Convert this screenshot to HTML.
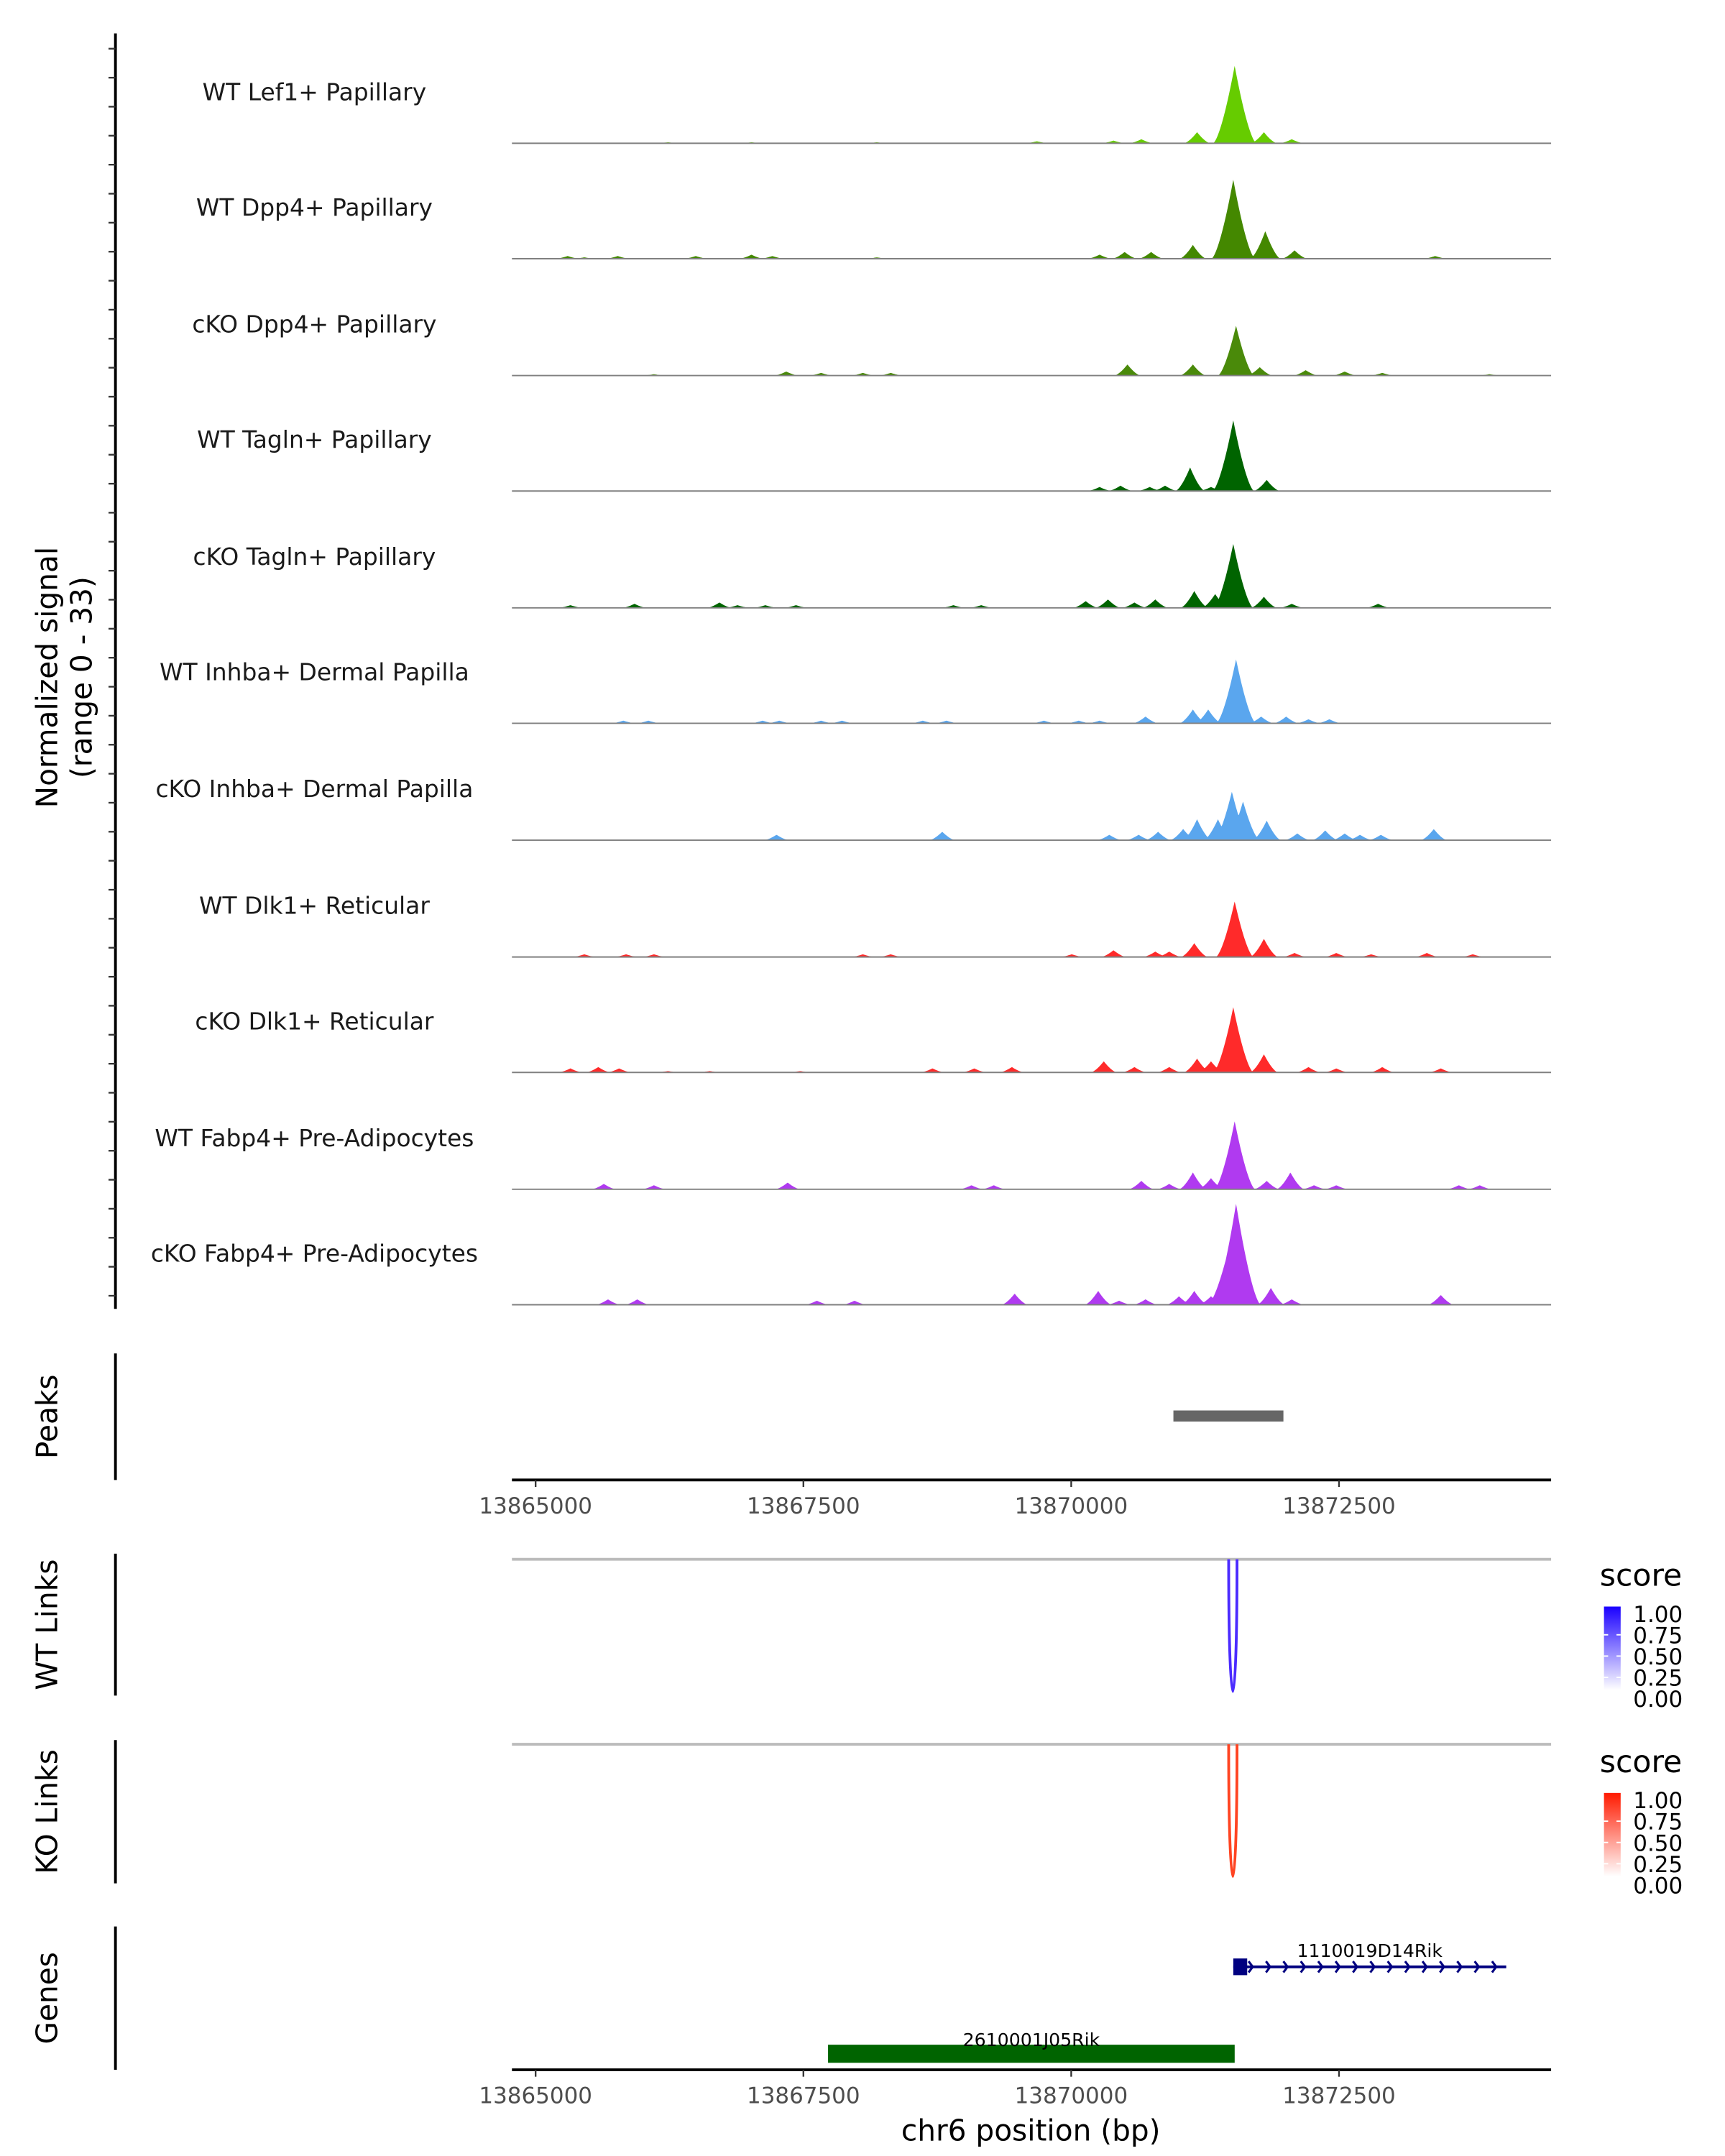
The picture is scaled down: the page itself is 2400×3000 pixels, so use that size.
<!DOCTYPE html>
<html><head><meta charset="utf-8"><style>html,body{margin:0;padding:0;background:#fff}svg{display:block}text{font-family:"DejaVu Sans","Liberation Sans",sans-serif}</style></head>
<body>
<svg id="chart" width="2400" height="3000" viewBox="0 0 1240 1550" xmlns="http://www.w3.org/2000/svg">
<g id="tracks"></g>
<g id="axes"></g>
</svg>
<script>
// ---- data ----
const regionStart = 13865000;
const regionEnd = 13874480;
const regionLeft = 13864779;
const tickBp = [13865000, 13867500, 13870000, 13872500];
const tickLabels = ["13865000", "13867500", "13870000", "13872500"];
const trackNames = ["WT Lef1+ Papillary","WT Dpp4+ Papillary","cKO Dpp4+ Papillary","WT Tagln+ Papillary","cKO Tagln+ Papillary","WT Inhba+ Dermal Papilla","cKO Inhba+ Dermal Papilla","WT Dlk1+ Reticular","cKO Dlk1+ Reticular","WT Fabp4+ Pre-Adipocytes","cKO Fabp4+ Pre-Adipocytes"];
const trackColors = ["#66cc00","#448800","#4a8a0a","#006400","#006400","#5aa6ee","#5aa6ee","#ff2a2a","#ff2a2a","#b03af0","#b03af0"];
const signalMax = 33;
// peak positions (bp offset from 13865000) and signal values per track
const pos0 = [6526,6175,6799,7059,5655,5395,4680,1235,2015,3185];
const val0 = [23,3.3,3.3,1.2,1.2,0.8,0.6,0.3,0.3,0.3];
const pos1 = [6513,6812,6136,7085,5499,5746,5265,2015,767,299,8398,1495,2210,3185,455];
const val1 = [23.5,8.2,4.1,2.5,2,2,1.2,1.2,0.8,0.8,0.8,0.8,0.8,0.4,0.4];
const pos2 = [6539,6136,5525,6760,7189,7553,2340,2665,3055,3315,7904,8905,1105];
const val2 = [14.8,3.3,3.3,2.5,1.6,1.2,1.2,0.8,0.8,0.8,0.8,0.4,0.4];
const pos3 = [6513,6110,6825,5876,5265,5460,5733,6305];
const val3 = [21,7,3.3,1.6,1.2,1.6,1.2,1.2];
const pos4 = [6513,6149,6344,6799,5785,5343,5135,5590,7059,7865,1716,923,325,2431,2145,3900,4160,1885];
const val4 = [19,5,4.1,3.3,2.5,2.5,2,1.6,1.2,1.2,1.6,1.2,0.8,0.8,0.8,0.8,0.8,0.8];
const pos5 = [6539,6136,6279,6773,7007,5694,7215,7410,819,1053,2119,2275,2665,2860,3614,3835,4745,5070,5265];
const val5 = [19,4.1,4.1,2,2,2,1.2,1.2,0.8,0.8,0.8,0.8,0.8,0.8,0.8,0.8,0.8,0.8,0.8];
const pos6 = [6500,6604,6175,6370,6825,6045,5811,5356,5629,7111,7371,7553,7696,7891,8385,2249,3796];
const val6 = [14.4,11.5,6.2,6.2,5.8,3.3,2.5,1.6,1.6,2,2.9,2,1.6,1.6,3.3,1.6,2.5];
const pos7 = [6526,6149,6799,5395,5785,5915,7085,7475,455,845,1105,3055,3315,5005,7800,8320,8749];
const val7 = [16.5,4.1,5.4,2,1.6,1.6,1.2,1.2,0.8,0.8,0.8,0.8,0.8,0.8,0.8,1.2,0.8];
const pos8 = [6513,6175,6799,5304,6305,585,325,780,3705,4095,4446,5590,5915,7215,7475,7904,8450,1235,1625,2470];
const val8 = [19.4,4.1,5.4,3.3,3.3,1.6,1.2,1.2,1.2,1.2,1.6,1.6,1.6,1.6,1.2,1.6,1.2,0.4,0.4,0.4];
const pos9 = [6526,6136,6305,7046,6825,5655,5915,637,1105,2353,4069,4277,7475,8619,8814,7267];
const val9 = [20.2,5,3.3,5,2.5,2.5,1.6,1.6,1.2,2,1.2,1.2,1.2,1.2,1.2,1.2];
const pos10 = [6539,6435,6149,6864,5252,4472,6006,5694,6305,7059,8450,676,949,2626,2977,5447];
const val10 = [30,12.4,4.1,5,4.1,3.3,2.5,1.6,2.5,1.6,2.9,1.6,1.6,1.2,1.2,1.2];
const trackPos = [pos0,pos1,pos2,pos3,pos4,pos5,pos6,pos7,pos8,pos9,pos10];
const trackVal = [val0,val1,val2,val3,val4,val5,val6,val7,val8,val9,val10];
const peakStart = 5954, peakEnd = 6981;
const geneNames = ["1110019D14Rik","2610001J05Rik"];
const geneStart = [6513, 2730];
const geneEnd = [9061, 6526];
const linkStart = [6470, 6470];
const linkEnd = [6548, 6548];
const legendTicks = ["1.00","0.75","0.50","0.25","0.00"];

// ---- scales ----
const X0 = 368, X1 = 1115;
function xs(bp){ return X0 + (bp - regionLeft) * (X1 - X0) / (regionEnd - regionLeft); }
function xo(off){ return xs(regionStart + off); }
const baselines = [103,186,270,353,437,520,604,688,771,855,938];
const trackH = 80;
function ys(v, base){ return base - v / signalMax * trackH; }

const NS = "http://www.w3.org/2000/svg";
const svg = document.getElementById('chart');
const tracksG = document.getElementById('tracks');
const axesG = document.getElementById('axes');
function mk(tag, attrs, parent){ const e = document.createElementNS(NS, tag); for (const k in attrs) e.setAttribute(k, attrs[k]); (parent||svg).appendChild(e); return e; }
function txt(s, attrs, parent){ const e = mk('text', attrs, parent); e.textContent = s; return e; }

// coverage tracks
trackNames.forEach((name, i) => {
  const base = baselines[i];
  const g = mk('g', {}, tracksG);
  
  
  const lbl = txt(name, {x:226, y:base-31, 'text-anchor':'middle', 'font-size':17, fill:'#1a1a1a'}, g);
  
  
  let d = 'M' + X0 + ' ' + base;
  const P = trackPos[i], V = trackVal[i];
  for (let px = X0; px <= X1; px += 0.5) {
    let v = 0;
    const bpAt = regionLeft + (px - X0) * (regionEnd - regionLeft) / (X1 - X0);
    for (let k = 0; k < P.length; k++) {
      const hw = 110 + V[k] * 4;
      const dd = Math.abs(bpAt - (regionStart + P[k]));
      if (dd < hw) v = Math.max(v, V[k] * Math.pow(1 - dd / hw, 1.5));
    }
    d += ' L' + px.toFixed(1) + ' ' + ys(v, base).toFixed(2);
  }
  d += ' L' + X1 + ' ' + base + ' Z';
  const area = mk('path', {d:d, fill:trackColors[i]}, g);
  
  
  const bl = mk('line', {x1:X0, x2:X1, y1:base, y2:base, stroke:'#808080', 'stroke-width':1}, g);
  
  
});

// left axis with ticks
const la = mk('line', {x1:83, x2:83, y1:24, y2:941, stroke:'#000', 'stroke-width':2}, axesG);


for (let k = 0; k < 44; k++) {
  const y = 35 + k * 20.85;
  mk('line', {x1:78, x2:83, y1:y, y2:y, stroke:'#333', 'stroke-width':1.2}, axesG);
}
const yt = txt('Normalized signal', {x:0, y:0, 'font-size':21, 'text-anchor':'middle', fill:'#000', transform:'translate(41,487) rotate(-90)'}, axesG);


const yt2 = txt('(range 0 - 33)', {x:0, y:0, 'font-size':21, 'text-anchor':'middle', fill:'#000', transform:'translate(66,487) rotate(-90)'}, axesG);



// side panel labels
const panels = [["Peaks",973,1064],["WT Links",1117,1219],["KO Links",1251,1354],["Genes",1385,1488]];
panels.forEach(p => {
  const l = mk('line', {x1:83, x2:83, y1:p[1], y2:p[2], stroke:'#000', 'stroke-width':2}, axesG);
  
  
  const t = txt(p[0], {x:0, y:0, 'font-size':21, 'text-anchor':'middle', fill:'#000', transform:'translate(41,' + ((p[1]+p[2])/2) + ') rotate(-90)'}, axesG);
  
  
});

// peaks
const pk = mk('rect', {x:xo(peakStart), y:1014, width:xo(peakEnd)-xo(peakStart), height:8, fill:'#666'}, axesG);



// x axes
function xAxis(y, name){
  const g = mk('g', {}, axesG);
  
  
  mk('line', {x1:X0, x2:X1, y1:y, y2:y, stroke:'#000', 'stroke-width':2}, g);
  tickBp.forEach((b, k) => {
    mk('line', {x1:xs(b), x2:xs(b), y1:y, y2:y+5, stroke:'#333', 'stroke-width':1.2}, g);
    const t = txt(tickLabels[k], {x:xs(b), y:y+24, 'text-anchor':'middle', 'font-size':16, fill:'#4d4d4d'}, g);
    
    
  });
}
xAxis(1064, 'peaks-x-axis');
xAxis(1488, 'genes-x-axis');
const xt = txt('chr6 position (bp)', {x:741, y:1539, 'text-anchor':'middle', 'font-size':21, fill:'#000'}, axesG);



// links
const linkCfg = [[1121,1216,'#4b2bff','wt-link-arc'],[1254,1349,'#ff4422','ko-link-arc']];
linkCfg.forEach((c, k) => {
  mk('line', {x1:X0, x2:X1, y1:c[0], y2:c[0], stroke:'#bbb', 'stroke-width':2}, axesG);
  const a = xo(linkStart[k]), b = xo(linkEnd[k]);
  const depth = (c[1]-c[0]) * 4/3;
  const p = mk('path', {d:'M'+a+' '+c[0]+' C'+a+' '+(c[0]+depth)+' '+b+' '+(c[0]+depth)+' '+b+' '+c[0], fill:'none', stroke:c[2], 'stroke-width':2}, axesG);
  
  
});

// legends
const defs = mk('defs', {});
[['gb','#1a00ff'],['gr','#ff1a00']].forEach(g => {
  const lg = mk('linearGradient', {id:g[0], x1:0, y1:0, x2:0, y2:1}, defs);
  mk('stop', {offset:0, 'stop-color':g[1]}, lg);
  mk('stop', {offset:1, 'stop-color':'#ffffff'}, lg);
});
[[1140,'gb','wt-legend'],[1274,'gr','ko-legend']].forEach(L => {
  const g = mk('g', {}, axesG);
  
  
  txt('score', {x:1150, y:L[0], 'font-size':22, fill:'#000'}, g);
  mk('rect', {x:1153, y:L[0]+15, width:12, height:60, fill:'url(#'+L[1]+')'}, g);
  legendTicks.forEach((t, k) => {
    const yy = L[0] + 20 + k * 15.3;
    if (k > 0 && k < 4) { mk('line', {x1:1153, x2:1156, y1:yy, y2:yy, stroke:'#fff'}, g); mk('line', {x1:1162, x2:1165, y1:yy, y2:yy, stroke:'#fff'}, g); }
    txt(t, {x:1174, y:yy+6, 'font-size':16, fill:'#000'}, g);
  });
});

// genes
const g1 = mk('g', {}, axesG);


const a1 = xo(geneStart[0]), b1 = xo(geneEnd[0]);
mk('line', {x1:a1, x2:b1, y1:1414, y2:1414, stroke:'#000080', 'stroke-width':2}, g1);
mk('rect', {x:a1, y:1408, width:10, height:12, fill:'#000080'}, g1);
for (let x = a1 + 14; x < b1 - 2; x += 12.5) mk('path', {d:'M'+(x-3)+' 1410 L'+x+' 1414 L'+(x-3)+' 1418', fill:'none', stroke:'#000080', 'stroke-width':1.6}, g1);
txt(geneNames[0], {x:(a1+b1)/2, y:1407, 'text-anchor':'middle', 'font-size':13, fill:'#000'}, g1);
const g2 = mk('g', {}, axesG);


const a2 = xo(geneStart[1]), b2 = xo(geneEnd[1]);
mk('rect', {x:a2, y:1470, width:b2-a2, height:13, fill:'#006400'}, g2);
txt(geneNames[1], {x:(a2+b2)/2, y:1471, 'text-anchor':'middle', 'font-size':13, fill:'#000'}, g2);
</script>
</body></html>
